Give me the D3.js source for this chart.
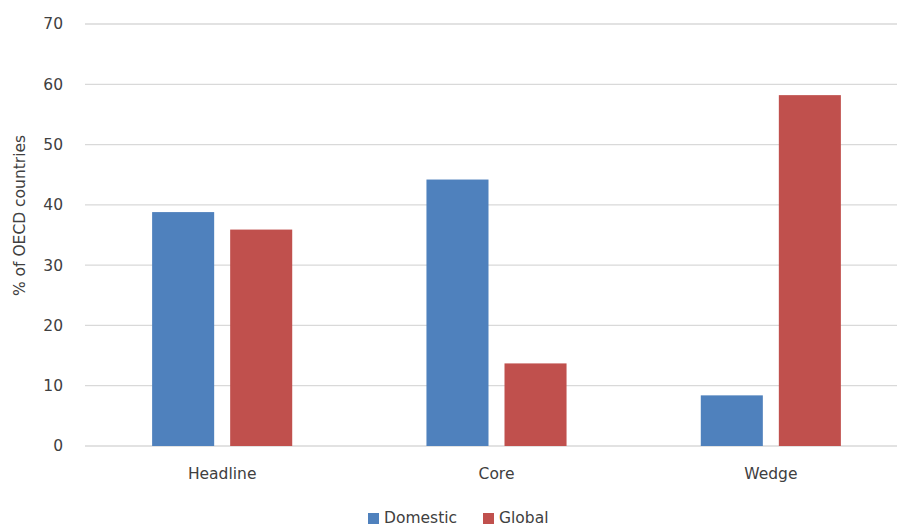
<!DOCTYPE html>
<html>
<head>
<meta charset="utf-8">
<script src="https://cdn.jsdelivr.net/npm/d3@7"></script>
<style>
  html, body { margin: 0; padding: 0; background: #fff; }
  svg { display: block; }
  text { font-family: "DejaVu Sans", sans-serif; fill: #404040; }
</style>
</head>
<body>
<svg id="chart" width="897" height="529"></svg>
<script>
// Share of OECD countries where inflation is driven by domestic vs global factors
const categories = ["Headline", "Core", "Wedge"];
const seriesNames = ["Domestic", "Global"];
const domestic = [38.8, 44.2, 8.4];
const global = [35.9, 13.7, 58.2];
const yTicks = [0, 10, 20, 30, 40, 50, 60, 70];
const colors = ["#4F81BD", "#C0504D"];

const svg = d3.select("#chart");
const plot = { left: 85, right: 908, top: 24, bottom: 446 };

const y = d3.scaleLinear().domain([0, 70]).range([plot.bottom, plot.top]);
const x = d3.scaleBand().domain(categories).range([plot.left, plot.right]).padding(0);
const inner = d3.scaleBand().domain(seriesNames)
  .range([0, x.bandwidth()]).paddingInner(0.205).paddingOuter(0.86);

// gridlines
svg.append("g").selectAll("line").data(yTicks).join("line")
  .attr("x1", plot.left).attr("x2", plot.right)
  .attr("y1", d => y(d)).attr("y2", d => y(d))
  .attr("stroke", "#d9d9d9").attr("stroke-width", 1.3);

// y axis labels
const yAxis = d3.axisLeft(y).tickValues(yTicks).tickSize(0).tickPadding(0);
const gy = svg.append("g").attr("transform", `translate(63,0)`).call(yAxis);
gy.select(".domain").remove();
gy.selectAll("text").style("font-size", "15.5px").attr("fill", "#404040")
  .style("font-family", "DejaVu Sans, sans-serif");

// axis title
svg.append("text")
  .attr("transform", `translate(25,${(128 + 303) / 2}) rotate(-90)`)
  .attr("text-anchor", "middle")
  .style("font-size", "15.5px")
  .text("% of OECD countries");

// bars
const rows = categories.map((c, i) => ({ cat: c, values: [domestic[i], global[i]] }));
const groups = svg.append("g").selectAll("g").data(rows).join("g")
  .attr("transform", d => `translate(${x(d.cat)},0)`);
groups.selectAll("rect")
  .data(d => d.values.map((v, j) => ({ name: seriesNames[j], v, j })))
  .join("rect")
  .attr("x", d => inner(d.name))
  .attr("width", inner.bandwidth())
  .attr("y", d => y(d.v))
  .attr("height", d => y(0) - y(d.v))
  .attr("fill", d => colors[d.j]);

// category labels
const xAxis = d3.axisBottom(x).tickSize(0).tickPadding(0);
const gx = svg.append("g").attr("transform", `translate(0,${plot.bottom + 33})`).call(xAxis);
gx.select(".domain").remove();
gx.selectAll("text").style("font-size", "15.5px").attr("fill", "#404040")
  .style("font-family", "DejaVu Sans, sans-serif").attr("dy", 0);

// legend
const legend = svg.append("g").attr("transform", "translate(368,513)");
const legendX = [0, 115];
seriesNames.forEach((n, i) => {
  const g = legend.append("g").attr("transform", `translate(${legendX[i]},0)`);
  g.append("rect").attr("x", 0).attr("y", 0).attr("width", 11).attr("height", 11)
    .attr("fill", colors[i]);
  g.append("text").attr("x", 16).attr("y", 10).style("font-size", "15.5px").text(n);
});
</script>
</body>
</html>
